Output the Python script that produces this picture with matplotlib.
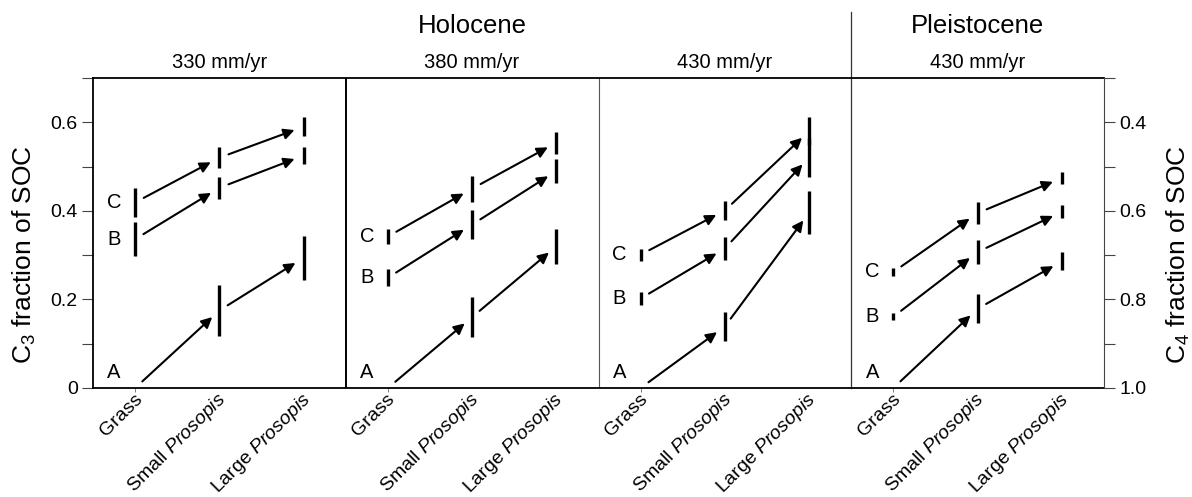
import numpy as np
import matplotlib
import matplotlib.pyplot as plt

matplotlib.rcParams['font.family'] = 'Liberation Sans'
matplotlib.rcParams['mathtext.fontset'] = 'custom'
matplotlib.rcParams['mathtext.rm'] = 'Liberation Sans'
matplotlib.rcParams['mathtext.it'] = 'Liberation Sans:italic'

categories = ['Grass', 'Small $\\mathit{Prosopis}$', 'Large $\\mathit{Prosopis}$']
rainfall = ['330 mm/yr', '380 mm/yr', '430 mm/yr', '430 mm/yr']
periods = ['Holocene', 'Pleistocene']
series = ['A', 'B', 'C']

# C3 fraction, one row per panel (Grass, Small, Large)
A_mean = [[0.0, 0.175, 0.294], [0.0, 0.160, 0.320], [0.0, 0.139, 0.396], [0.0, 0.179, 0.286]]
A_err = [[0.0, 0.058, 0.050], [0.0, 0.045, 0.040], [0.0, 0.033, 0.049], [0.0, 0.033, 0.020]]
B_mean = [[0.336, 0.452, 0.525], [0.249, 0.369, 0.490], [0.202, 0.315, 0.521], [0.161, 0.307, 0.398]]
B_err = [[0.038, 0.025, 0.020], [0.019, 0.033, 0.028], [0.014, 0.025, 0.044], [0.008, 0.027, 0.015]]
C_mean = [[0.419, 0.520, 0.590], [0.342, 0.450, 0.554], [0.301, 0.401, 0.580], [0.262, 0.395, 0.474]]
C_err = [[0.032, 0.024, 0.021], [0.016, 0.029, 0.025], [0.014, 0.022, 0.032], [0.008, 0.025, 0.014]]

means = {'A': A_mean, 'B': B_mean, 'C': C_mean}
errs = {'A': A_err, 'B': B_err, 'C': C_err}

W, H = 1192, 497
fig = plt.figure(figsize=(W / 100, H / 100), dpi=100)
ax = fig.add_axes([93 / W, 1 - 388 / H, (1104 - 93) / W, 310 / H])
ax.set_xlim(0, 12)
ax.set_ylim(0, 0.7)

for s in ['left', 'bottom', 'top']:
    ax.spines[s].set_linewidth(1.3)
ax.spines['right'].set_visible(False)

ax.set_yticks([0, 0.2, 0.4, 0.6])
ax.set_yticklabels(['0', '0.2', '0.4', '0.6'])
ax.set_yticks([0.1, 0.3, 0.5, 0.7], minor=True)
ax.tick_params(axis='y', which='both', direction='out', length=8, width=0.8,
               color='#444444', labelsize=14, pad=3)
grass_x = [p * 3 + 0.5 for p in range(4)]
ax.set_xticks(grass_x)
ax.set_xticklabels([])
ax.tick_params(axis='x', direction='out', length=3, width=0.6, color='#666666')

ax2 = ax.twinx()
ax2.set_ylim(1.0, 0.3)
for s in ['left', 'bottom', 'top']:
    ax2.spines[s].set_visible(False)
ax2.spines['right'].set_linewidth(0.8)
ax2.spines['right'].set_color('#444444')
ax2.set_yticks([0.4, 0.6, 0.8, 1.0])
ax2.set_yticklabels(['0.4', '0.6', '0.8', '1.0'])
ax2.set_yticks([0.3, 0.5, 0.7, 0.9], minor=True)
ax2.tick_params(axis='y', which='both', direction='out', length=8, width=0.8,
                color='#444444', labelsize=14, pad=3)

# panel dividers
ax.axvline(3, color='black', lw=1.4)
ax.axvline(6, color='#555555', lw=0.8)
ax.plot([9, 9], [0, (388 - 12) / 310], transform=ax.get_xaxis_transform(),
        color='#333333', lw=0.9, clip_on=False)

for p in range(4):
    xs = [p * 3 + 0.5, p * 3 + 1.5, p * 3 + 2.5]
    for name in series:
        m = means[name][p]
        e = errs[name][p]
        for i in range(3):
            if e[i] > 0:
                ax.vlines(xs[i], m[i] - e[i], m[i] + e[i], color='black', lw=2.4)
        for i in range(2):
            ax.annotate('', xy=(xs[i + 1], m[i + 1]), xytext=(xs[i], m[i]),
                        arrowprops=dict(arrowstyle='-|>', color='black', lw=1.5,
                                        mutation_scale=16, shrinkA=7, shrinkB=7))
        ly = m[0] if m[0] > 0 else 0.035
        ax.text(xs[0] - 0.25, ly, name, ha='center', va='center', fontsize=14.5)
    for i in range(3):
        ax.annotate(categories[i], xy=(xs[i], 0), xycoords=('data', 'axes fraction'),
                    xytext=(5.5, -8.5), textcoords='offset points', rotation=45,
                    ha='right', va='baseline', rotation_mode='anchor', fontsize=14)
    ax.text(p * 3 + 1.5, (388 - 68) / 310, rainfall[p], transform=ax.get_xaxis_transform(),
            ha='center', va='baseline', fontsize=14.5)

ax.text(4.5, (388 - 33) / 310, periods[0], transform=ax.get_xaxis_transform(),
        ha='center', va='baseline', fontsize=18.5)
ax.text(10.5, (388 - 33) / 310, periods[1], transform=ax.get_xaxis_transform(),
        ha='center', va='baseline', fontsize=18.5)

fig.text(24 / W, 1 - 255 / H, 'C$_3$ fraction of SOC', rotation=90,
         ha='center', va='center', fontsize=19)
fig.text(1178 / W, 1 - 255 / H, 'C$_4$ fraction of SOC', rotation=90,
         ha='center', va='center', fontsize=19)

fig.savefig('out.png', dpi=100)
